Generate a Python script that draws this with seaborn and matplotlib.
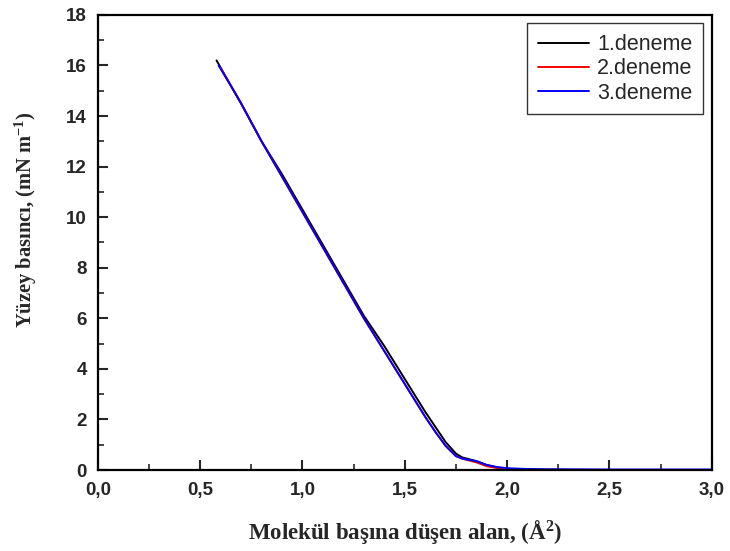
import matplotlib
matplotlib.use("Agg")
import matplotlib.pyplot as plt
import seaborn as sns
import pandas as pd
from matplotlib.ticker import MultipleLocator, FuncFormatter

# Data
area1 = [0.58, 0.65, 0.70, 0.80, 0.90, 1.00, 1.10, 1.20, 1.30, 1.40, 1.50, 1.60, 1.65, 1.70, 1.75, 1.78, 1.85, 1.90, 1.95, 2.00, 2.10, 2.20, 2.50, 3.00]
press1 = [16.2, 15.2, 14.5, 13.0, 11.7, 10.3, 8.9, 7.5, 6.1, 4.9, 3.6, 2.3, 1.7, 1.1, 0.65, 0.5, 0.35, 0.2, 0.1, 0.05, 0.02, 0.01, 0.0, 0.0]
area2 = [0.60, 0.65, 0.70, 0.80, 0.90, 1.00, 1.10, 1.20, 1.30, 1.40, 1.50, 1.60, 1.65, 1.70, 1.75, 1.78, 1.85, 1.90, 1.95, 2.00, 2.10, 2.20, 2.50, 3.00]
press2 = [15.9, 15.2, 14.5, 13.0, 11.6, 10.2, 8.8, 7.4, 6.0, 4.7, 3.4, 2.1, 1.5, 0.95, 0.55, 0.45, 0.3, 0.15, 0.08, 0.03, 0.01, 0.0, 0.0, 0.0]
area3 = [0.59, 0.65, 0.70, 0.80, 0.90, 1.00, 1.10, 1.20, 1.30, 1.40, 1.50, 1.60, 1.65, 1.70, 1.75, 1.78, 1.85, 1.90, 1.95, 2.00, 2.10, 2.20, 2.50, 3.00]
press3 = [16.0, 15.2, 14.5, 13.0, 11.6, 10.2, 8.8, 7.4, 6.0, 4.7, 3.4, 2.1, 1.5, 0.95, 0.55, 0.45, 0.35, 0.2, 0.12, 0.07, 0.04, 0.03, 0.02, 0.02]
series_names = ["1.deneme", "2.deneme", "3.deneme"]
colors = ["#000000", "#ff0000", "#0000ff"]

frames = []
for name, xs, ys in zip(series_names, [area1, area2, area3], [press1, press2, press3]):
    frames.append(pd.DataFrame({"area": xs, "pressure": ys, "run": name}))
df = pd.concat(frames, ignore_index=True)

sns.set_style("ticks")
plt.rcParams["mathtext.fontset"] = "custom"
plt.rcParams["mathtext.bf"] = "Liberation Serif:bold"
plt.rcParams["mathtext.rm"] = "Liberation Serif:bold"
plt.rcParams["mathtext.it"] = "Liberation Serif:bold"

fig = plt.figure(figsize=(7.30, 5.51), dpi=100)
ax = fig.add_axes([0.134, 0.147, 0.841, 0.826])

sns.lineplot(data=df, x="area", y="pressure", hue="run", palette=colors,
             hue_order=series_names, sort=False, estimator=None, linewidth=1.4, ax=ax)

ax.set_xlim(0, 3.0)
ax.set_ylim(0, 18)
ax.xaxis.set_major_locator(MultipleLocator(0.5))
ax.xaxis.set_minor_locator(MultipleLocator(0.25))
ax.yaxis.set_major_locator(MultipleLocator(2))
ax.yaxis.set_minor_locator(MultipleLocator(1))
ax.xaxis.set_major_formatter(FuncFormatter(lambda v, p: f"{v:.1f}".replace(".", ",")))
ax.tick_params(which="major", direction="in", length=7, width=1.5, top=False, right=False)
ax.tick_params(axis="x", which="major", pad=8.5)
ax.tick_params(axis="y", which="major", pad=8)
ax.tick_params(which="minor", direction="in", length=4, width=1.2, top=False, right=False)
for lab in ax.get_xticklabels() + ax.get_yticklabels():
    lab.set_fontfamily("Liberation Sans")
    lab.set_fontweight("bold")
    lab.set_fontsize(13.5)
for s in ax.spines.values():
    s.set_linewidth(1.6)
    s.set_color("black")

ax.set_xlabel(r"Molekül başına düşen alan, (Å$^{\mathbf{2}}$)", fontfamily="Liberation Serif",
              fontweight="bold", fontsize=16.5)
ax.set_ylabel(r"Yüzey basıncı, (mN m$^{\mathbf{-1}}$)", fontfamily="Liberation Serif",
              fontweight="bold", fontsize=14.8)
ax.xaxis.set_label_coords(0.5, -0.105)
ax.yaxis.set_label_coords(-0.095, 0.55)

leg = ax.legend(loc="upper right", bbox_to_anchor=(1.0, 1.0), frameon=True, fancybox=False,
                prop={"family": "Liberation Sans", "size": 15.5}, handlelength=2.4,
                borderpad=0.5, labelspacing=0.15, handletextpad=0.35, borderaxespad=0.4)
leg.get_frame().set_edgecolor("black")
leg.get_frame().set_linewidth(1.0)
leg.set_title(None)

fig.savefig("out.png", dpi=100)
